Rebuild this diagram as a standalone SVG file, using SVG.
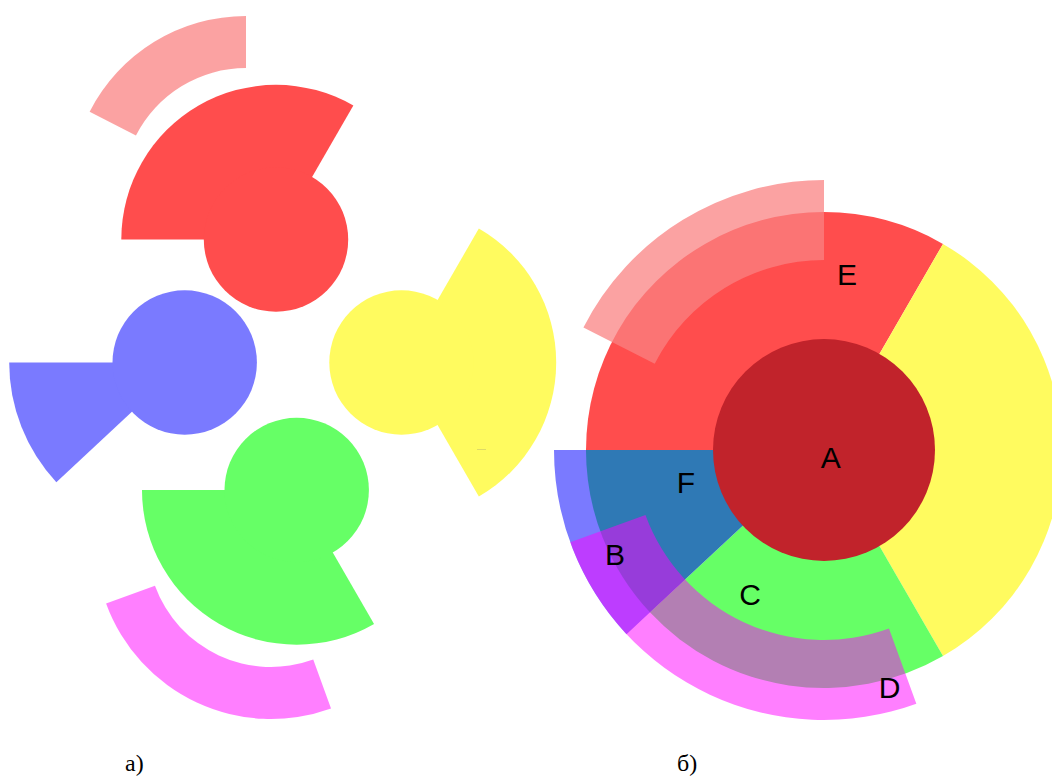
<svg xmlns="http://www.w3.org/2000/svg" width="1052" height="776" viewBox="0 0 1052 776">
  <style>
    .red { fill: #FF4D4D; }
    .yellow { fill: #FFFB5F; }
    .green { fill: #66FF66; }
    .lblue { fill: #7A7AFF; }
    .fblue { fill: #2F79B5; }
    .core { fill: #C1232B; }
    .pink { fill: #FA8282; fill-opacity: 0.74; }
    .mag { fill: #FF00FF; fill-opacity: 0.5; }
    .lbl { font-family: "Liberation Sans", Arial, sans-serif; font-size: 30px; fill: #000; text-anchor: middle; }
    .cap { font-family: "Liberation Serif", "Times New Roman", serif; font-size: 24px; fill: #000; }
  </style>
  <rect x="0" y="0" width="1052" height="776" fill="#FFFFFF"/>

  <!-- (a) exploded pieces -->
  <g id="a-red">
    <path class="red" d="M276,239.5 L121.3,239.5 A154.7,154.7 0 0 1 353.35,105.53 Z"/>
    <circle class="red" cx="276" cy="239.5" r="72.2"/>
  </g>
  <g id="a-pink-arc">
    <path class="pink" d="M89.63,111.82 A175.5,175.5 0 0 1 246,16 L246,68 A123.5,123.5 0 0 0 135.96,135.43 Z"/>
  </g>
  <g id="a-blue">
    <path class="lblue" d="M184.7,362.5 L56.34,482.19 A175.5,175.5 0 0 1 9.2,362.5 Z"/>
    <circle class="lblue" cx="184.7" cy="362.5" r="72.2"/>
  </g>
  <g id="a-yellow">
    <path class="yellow" d="M401.5,362.5 L478.85,228.53 A154.7,154.7 0 0 1 478.85,496.47 Z"/>
    <circle class="yellow" cx="401.5" cy="362.5" r="72.2"/>
    <line x1="477" y1="449.5" x2="486" y2="449.5" stroke="#C8C46A" stroke-width="1" stroke-opacity="0.6"/>
  </g>
  <g id="a-green">
    <path class="green" d="M296.7,490 L374.05,623.97 A154.7,154.7 0 0 1 142,490 Z"/>
    <circle class="green" cx="296.7" cy="490" r="72.2"/>
  </g>
  <g id="a-magenta-arc">
    <path class="mag" d="M331.02,708.42 A175.5,175.5 0 0 1 106.08,603.52 L154.95,585.74 A123.5,123.5 0 0 0 313.24,659.55 Z"/>
  </g>
  <text class="cap" x="125" y="771">а)</text>

  <!-- (b) assembled diagram -->
  <g id="b-blue-arc">
    <path class="lblue" d="M626.52,634.14 A270,270 0 0 1 554,450 L634,450 A190,190 0 0 0 685.03,579.58 Z"/>
  </g>
  <g id="node-E">
    <path class="red" d="M824,450 L586,450 A238,238 0 0 1 943,243.89 Z"/>
  </g>
  <g id="node-yellow">
    <path class="yellow" d="M824,450 L943,243.89 A238,238 0 0 1 943,656.11 Z"/>
  </g>
  <g id="node-C">
    <path class="green" d="M824,450 L943,656.11 A238,238 0 0 1 649.93,612.32 Z"/>
  </g>
  <g id="node-F">
    <path class="fblue" d="M824,450 L649.93,612.32 A238,238 0 0 1 586,450 Z"/>
  </g>
  <g id="node-A">
    <circle class="core" cx="824" cy="450" r="111"/>
  </g>
  <g id="b-pink-arc">
    <path class="pink" d="M583.43,327.42 A270,270 0 0 1 824,180 L824,260 A190,190 0 0 0 654.71,363.74 Z"/>
  </g>
  <g id="node-BD">
    <path class="mag" d="M916.34,703.72 A270,270 0 0 1 570.28,542.34 L645.46,514.98 A190,190 0 0 0 888.98,628.54 Z"/>
  </g>
  <g id="labels">
    <text class="lbl" x="830.7" y="468">A</text>
    <text class="lbl" x="847" y="285">E</text>
    <text class="lbl" x="686" y="492.5">F</text>
    <text class="lbl" x="615" y="565">B</text>
    <text class="lbl" x="750" y="605">C</text>
    <text class="lbl" x="889.7" y="698">D</text>
  </g>
  <text class="cap" x="677" y="771">б)</text>
</svg>
